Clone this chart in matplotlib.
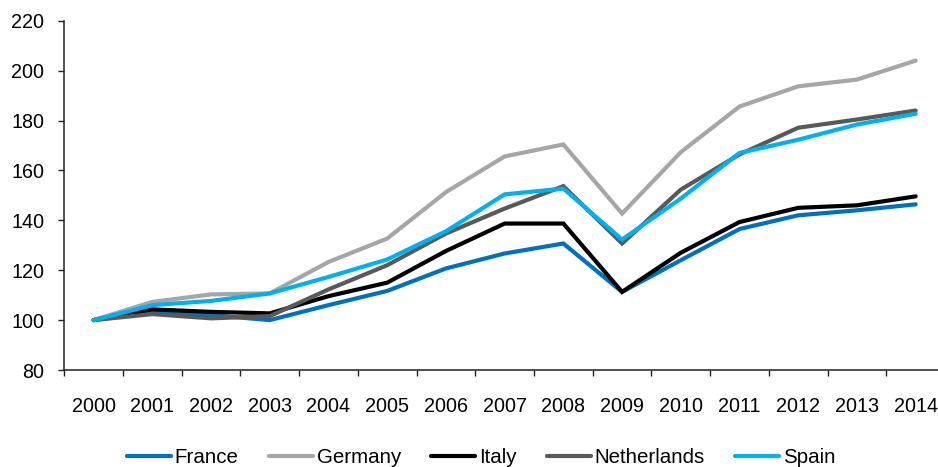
import matplotlib
matplotlib.use("Agg")
import matplotlib.pyplot as plt
import numpy as np

plt.rcParams['font.family'] = ['Liberation Sans', 'DejaVu Sans']

years = [str(y) for y in range(2000, 2015)]
france = [100, 103.3, 102, 100, 106, 111.7, 120.7, 126.7, 130.7, 111.3, 124, 136.5, 142, 144, 146.4]
germany = [100, 107.3, 110.3, 110.7, 123.3, 132.7, 151.3, 165.6, 170.4, 142.7, 167.3, 185.6, 193.7, 196.4, 204]
italy = [100, 104.3, 103.3, 102.7, 109.6, 115, 127.7, 138.7, 138.7, 111.3, 127, 139.3, 145, 146, 149.6]
netherlands = [100, 102.4, 100.7, 101.6, 112.3, 122, 134.7, 144.7, 153.7, 130.7, 152.3, 166.4, 177.1, 180.4, 184]
spain = [100, 106, 107.7, 110.7, 117.3, 124.3, 135.6, 150.4, 152.7, 132.3, 148.7, 167, 172.3, 178.4, 182.7]

series = [
    ("France", france, "#0070C0"),
    ("Germany", germany, "#A6A6A6"),
    ("Italy", italy, "#000000"),
    ("Netherlands", netherlands, "#595959"),
    ("Spain", spain, "#00B0F0"),
]

fig = plt.figure(figsize=(9.38, 4.67), dpi=100)
ax = fig.add_axes([64.3/938, 97/467, (945-64.3)/938, (370-20.7)/467])

x = np.arange(len(years))
for name, vals, col in series:
    ax.plot(x, vals, color=col, lw=3, label=name, solid_capstyle='round', solid_joinstyle='miter')

ax.set_xlim(-0.5, len(years) - 0.5)
ax.set_ylim(80, 220)
ax.set_yticks(np.arange(80, 221, 20))
ax.set_xticks(x)
ax.set_xticklabels(years)
ax.set_xticks(np.arange(-0.5, len(years), 1), minor=True)
ax.tick_params(axis='x', which='major', length=0, pad=19.5, labelsize=14.2)
ax.tick_params(axis='x', which='minor', length=4.5, width=1, direction='out', color='#222222')
ax.tick_params(axis='y', length=4.5, width=1, direction='out', pad=10, labelsize=14.2, color='#222222')

for s in ['top', 'right']:
    ax.spines[s].set_visible(False)
for s in ['left', 'bottom']:
    ax.spines[s].set_color('#222222')
    ax.spines[s].set_linewidth(1.1)

leg = fig.legend(loc='center left', bbox_to_anchor=(126.7/938, (467-457.5)/467), ncol=5,
                 frameon=False, fontsize=14.8, handlelength=2.14, handletextpad=0.2,
                 columnspacing=1.46, borderpad=0, borderaxespad=0)

fig.savefig("out.png", dpi=100)
